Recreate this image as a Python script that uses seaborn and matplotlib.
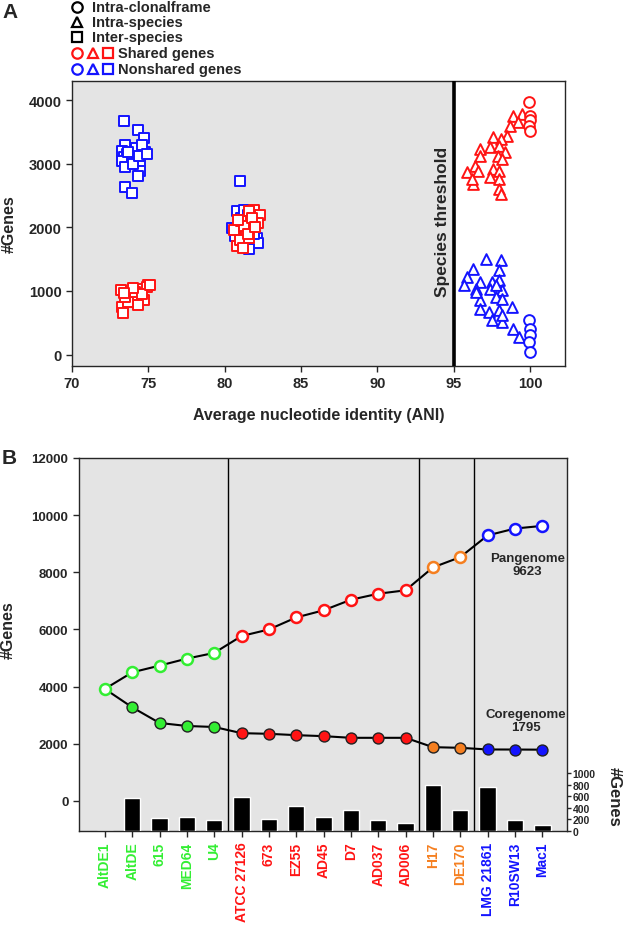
import numpy as np
import pandas as pd
import matplotlib
matplotlib.use("Agg")
import matplotlib.pyplot as plt
import seaborn as sns
from matplotlib.lines import Line2D

sns.set_style("ticks")
plt.rcParams['font.family'] = ['Liberation Sans', 'DejaVu Sans']
plt.rcParams['font.weight'] = 'bold'
plt.rcParams['axes.labelweight'] = 'bold'

RED = '#ff1414'
BLUE = '#1414ff'
GREEN = '#33ee33'
ORANGE = '#f57f20'
GREY = '#e4e4e4'

# ---- panel A: ANI vs number of genes ----
inter_ns_ani = [73.4, 74.3, 74.7, 73.5, 74.8, 74.45, 73.55, 74.45, 74.3, 73.5, 73.95,
                73.3, 73.4, 73.6, 73.3, 73.5, 74.2, 74.6, 74.0, 73.7, 74.4, 74.9,
                81.0, 80.8, 80.5, 82.1, 82.2, 81.6, 81.0, 81.1, 81.9, 80.7, 81.3, 81.5]
inter_ns_genes = [3666, 3534, 3400, 3294, 3180, 3033, 3020, 2890, 2810, 2635, 2541,
                  3200, 3100, 3150, 3050, 2950, 3250, 3300, 3000, 3180, 3120, 3150,
                  2725, 2250, 1990, 1830, 1750, 1660, 1710, 2150, 1900, 1870, 2280, 2200]
inter_sh_ani = [73.2, 73.3, 73.35, 73.9, 74.4, 75.0, 74.7, 74.3, 73.7, 74.1, 74.9, 74.6,
                73.5, 74.0, 75.1, 73.4,
                81.9, 81.6, 82.3, 82.2, 80.6, 81.1, 81.4, 80.8, 81.0, 81.6, 81.3, 80.9,
                81.8, 81.2, 81.5, 82.0]
inter_sh_genes = [1009, 750, 660, 931, 1035, 1087, 852, 774, 830, 990, 1060, 950,
                  900, 1050, 1100, 960,
                  2280, 2250, 2200, 2070, 1960, 2100, 1940, 1700, 1800, 1830, 2020, 2120,
                  2150, 1680, 1900, 2000]
intra_sh_ani = [98.9, 99.45, 99.2, 98.7, 98.5, 97.6, 98.1, 96.7, 97.4, 98.0, 98.4, 96.7,
                97.9, 98.2, 96.4, 95.9, 96.6, 97.6, 98.0, 96.3, 97.4, 98.0, 98.0, 98.1, 96.2]
intra_sh_genes = [3754, 3780, 3650, 3597, 3440, 3414, 3388, 3231, 3257, 3283, 3179, 3127,
                  3127, 3075, 2970, 2865, 2891, 2918, 2891, 2682, 2785, 2760, 2604, 2525, 2760]
intra_ns_ani = [97.15, 98.1, 96.3, 98.0, 95.9, 96.7, 97.5, 98.0, 95.7, 96.5, 97.4, 98.2,
                96.7, 97.8, 98.2, 98.8, 96.7, 97.3, 98.0, 97.5, 98.2, 98.9, 99.3, 98.2,
                96.5, 97.8]
intra_ns_genes = [1506, 1480, 1349, 1323, 1218, 1140, 1140, 1166, 1088, 1035, 1035, 1009,
                  852, 904, 878, 748, 722, 669, 695, 538, 512, 408, 277, 617, 983, 1088]
clonal_sh_ani = [99.95, 100.0, 100.0, 99.95, 100.0]
clonal_sh_genes = [3974, 3754, 3680, 3600, 3519]
clonal_ns_ani = [99.95, 100.0, 100.0, 99.95, 100.0]
clonal_ns_genes = [538, 408, 303, 199, 42]

# ---- panel B: pan/core genome accumulation ----
strains = ['AltDE1', 'AltDE', '615', 'MED64', 'U4', 'ATCC 27126', '673', 'EZ55',
           'AD45', 'D7', 'AD037', 'AD006', 'H17', 'DE170', 'LMG 21861', 'R10SW13', 'Mac1']
clade = ['g', 'g', 'g', 'g', 'g', 'r', 'r', 'r', 'r', 'r', 'r', 'r', 'o', 'o', 'b', 'b', 'b']
pangenome = [3920, 4500, 4735, 4980, 5180, 5770, 6000, 6420, 6670, 7040, 7250, 7370,
             8170, 8530, 9290, 9530, 9623]
coregenome = [3920, 3277, 2729, 2624, 2589, 2373, 2350, 2303, 2268, 2210, 2210, 2210,
              1883, 1860, 1802, 1800, 1795]
unique_genes = [0, 570, 220, 238, 198, 580, 215, 430, 238, 360, 198, 140, 797, 355, 762,
                198, 99]

clade_color = {'g': GREEN, 'r': RED, 'o': ORANGE, 'b': BLUE}

fig = plt.figure(figsize=(6.26, 9.29), dpi=100)

# panel A
rows = []
for kind, share, xs, ys in [
        ('Inter-species', 'Nonshared', inter_ns_ani, inter_ns_genes),
        ('Inter-species', 'Shared', inter_sh_ani, inter_sh_genes),
        ('Intra-species', 'Shared', intra_sh_ani, intra_sh_genes),
        ('Intra-species', 'Nonshared', intra_ns_ani, intra_ns_genes),
        ('Intra-clonalframe', 'Shared', clonal_sh_ani, clonal_sh_genes),
        ('Intra-clonalframe', 'Nonshared', clonal_ns_ani, clonal_ns_genes)]:
    for x, y in zip(xs, ys):
        rows.append({'ani': x, 'genes': y, 'kind': kind, 'share': share})
df_a = pd.DataFrame(rows)

markers = {'Intra-clonalframe': 'o', 'Intra-species': '^', 'Inter-species': 's'}
share_col = {'Shared': RED, 'Nonshared': BLUE}

ax_a = fig.add_axes([0.115, 0.605, 0.7876, 0.3067])
ax_a.set_facecolor('white')
ax_a.axvspan(70, 95, color=GREY, zorder=0, lw=0)
for (kind, share), sub in df_a.groupby(['kind', 'share'], sort=False):
    sns.scatterplot(data=sub, x='ani', y='genes', marker=markers[kind], s=60,
                    facecolor='white', edgecolor=share_col[share], linewidth=1.4,
                    ax=ax_a, zorder=3)
ax_a.axvline(95, color='black', lw=2.6, zorder=4)
ax_a.text(94.3, 2100, 'Species threshold', rotation=90, ha='center', va='center',
          fontsize=12.5)
ax_a.set_xlim(70, 102.3)
ax_a.set_ylim(-180, 4300)
ax_a.set_xticks(range(70, 101, 5))
ax_a.set_yticks(range(0, 4001, 1000))
ax_a.tick_params(labelsize=10.5, length=4, width=1)
ax_a.set_xlabel('Average nucleotide identity (ANI)', fontsize=11.5, labelpad=12)
ax_a.set_ylabel('#Genes', fontsize=11.5)
ax_a.yaxis.set_label_coords(-0.113, 0.5)
for sp in ax_a.spines.values():
    sp.set_linewidth(1)

# legend drawn by hand in figure pixels
def px(x, y):
    return x / 626, 1 - y / 929

legend_rows = [
    (['o'], ['black'], 'Intra-clonalframe', 8),
    (['^'], ['black'], 'Intra-species', 23),
    (['s'], ['black'], 'Inter-species', 38),
    (['o', '^', 's'], [RED] * 3, 'Shared genes', 54),
    (['o', '^', 's'], [BLUE] * 3, 'Nonshared genes', 70)]
for mks, cols, label, yy in legend_rows:
    for i, (m, c) in enumerate(zip(mks, cols)):
        fx, fy = px(77 + i * 15.5, yy)
        fig.add_artist(Line2D([fx], [fy], marker=m, markersize=7.5, mfc='none', mec=c,
                              mew=1.6, transform=fig.transFigure))
    tx, ty = px(92 if len(mks) == 1 else 118, yy)
    fig.text(tx, ty, label, fontsize=10.5, va='center', ha='left')

fig.text(*px(2, 13), 'A', fontsize=15, va='center', ha='left')
fig.text(*px(2, 458), 'B', fontsize=15, va='center', ha='left')

# panel B
pos = np.arange(len(strains))
ax_b = fig.add_axes([0.126, 0.1044, 0.7796, 0.4016])
ax_b.set_facecolor(GREY)
ax2 = ax_b.twinx()

sns.barplot(x=pos, y=unique_genes, native_scale=True, width=0.6, color='black',
            saturation=1, ax=ax2)
ax2.set_ylim(0, 6430)
ax2.set_yticks(range(0, 1001, 200))
ax2.tick_params(axis='y', labelsize=7.5, length=3, width=1, pad=1)
for sp in ax2.spines.values():
    sp.set_visible(False)
ax2.set_ylabel('#Genes', fontsize=12, rotation=270, va='center')
ax2.yaxis.set_label_coords(1.098, 0.094)

sns.lineplot(x=pos, y=pangenome, color='black', lw=1.5, sort=False, ax=ax_b, zorder=3)
sns.lineplot(x=pos, y=coregenome, color='black', lw=1.5, sort=False, ax=ax_b, zorder=3)
for xv in [4.5, 11.5, 13.5]:
    ax_b.axvline(xv, color='black', lw=1, zorder=2)
for key, c in clade_color.items():
    idx = [i for i, k in enumerate(clade) if k == key]
    sns.scatterplot(x=pos[idx], y=[pangenome[i] for i in idx], s=62, facecolor='white',
                    edgecolor=c, linewidth=1.8, ax=ax_b, zorder=4)
    idx_c = [i for i in idx if i > 0]
    sns.scatterplot(x=pos[idx_c], y=[coregenome[i] for i in idx_c], s=62, facecolor=c,
                    edgecolor='#222222', linewidth=1, ax=ax_b, zorder=4)

ax_b.text(15.45, 8270, f'Pangenome\n{pangenome[-1]}', ha='center', va='center',
          fontsize=9.5, linespacing=1.1)
ax_b.text(15.4, 2830, f'Coregenome\n{coregenome[-1]}', ha='center', va='center',
          fontsize=9.5, linespacing=1.1)

ax_b.set_xlim(-0.95, 16.9)
ax_b.set_ylim(-1050, 12000)
ax_b.set_yticks(range(0, 12001, 2000))
ax_b.set_xticks(pos)
ax_b.set_xticklabels(strains, rotation=90, fontsize=10)
for lab, k in zip(ax_b.get_xticklabels(), clade):
    lab.set_color(clade_color[k])
ax_b.tick_params(axis='y', labelsize=9.5, length=4, width=1)
ax_b.tick_params(axis='x', length=4, width=1)
ax_b.set_ylabel('#Genes', fontsize=11.5)
ax_b.yaxis.set_label_coords(-0.129, 0.54)
ax_b.set_xlabel('')
for sp in ax_b.spines.values():
    sp.set_linewidth(1)

fig.savefig('out.png', dpi=100)
